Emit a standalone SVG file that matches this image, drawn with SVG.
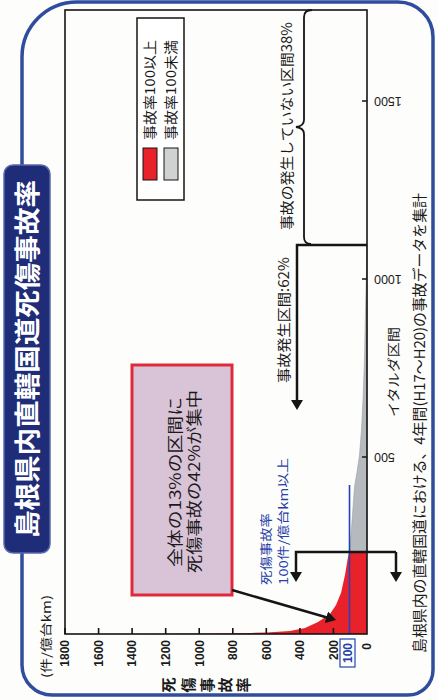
<svg xmlns="http://www.w3.org/2000/svg" width="438" height="700" viewBox="0 0 438 700">
<defs>
<style>
.jp{font-family:"Noto Sans CJK JP","Noto Sans",sans-serif;fill:#1a1a1a}
.num{font-family:"Liberation Sans",Arial,sans-serif;fill:#1a1a1a}
.ln{fill:none;stroke:#151515;stroke-width:2.5}
.ax{fill:none;stroke:#151515;stroke-width:1.6}
.blue{fill:#2440a8}
</style>
<marker id="ah" viewBox="0 0 10 12" refX="7" refY="6" markerWidth="10" markerHeight="12" markerUnits="userSpaceOnUse" orient="auto"><path d="M0,0 L10,6 L0,12 Z" fill="#151515"/></marker>
</defs>
<rect width="438" height="700" fill="#fdfdfb"/>
<path id="border" d="M77 2 H398 A35 35 0 0 1 433 37 V670 A25 25 0 0 1 408 695 H52 A30 30 0 0 1 22 665 V57 A55 55 0 0 1 77 2 Z" fill="none" stroke="#2f4c9e" stroke-width="3.5"/>
<g transform="translate(0,700) rotate(-90)">
<g id="title">
<rect x="147" y="4" width="388" height="46" rx="9" fill="#1f2d78" stroke="#5a6aaa" stroke-width="1.5"/>
<text x="341" y="37" text-anchor="middle" font-size="26" font-weight="bold" textLength="358" lengthAdjust="spacingAndGlyphs" style="font-family:'Noto Sans CJK JP',sans-serif;fill:#ffffff">島根県内直轄国道死傷事故率</text>
</g>
<g id="chart">
<path d="M66 367 L66 140 L66.6 220 L67 250 L67.6 267 L69 290 L72 305 L78 318 L86 330 L95 336 L107 341 L125 345 L140 347.5 L148 349 L148 367 Z" fill="#e8212b"/>
<path d="M148 367 L148 349.5 L165 351 L185 352.5 L213 354.5 L228 357 L245 359.5 L270 361.5 L300 363 L340 364.5 L390 365.5 L430 366.5 L455 367 Z" fill="#b6babe" stroke="#9a9ea2" stroke-width="0.6"/>
<path d="M66 349.5 H215" stroke="#2444b4" stroke-width="1.6"/>
<rect x="66" y="65" width="624" height="302" class="ax"/>
<path class="ax" d="M66 65 h6 M66 98.6 h6 M66 132.1 h6 M66 165.7 h6 M66 199.2 h6 M66 232.8 h6 M66 266.3 h6 M66 299.9 h6 M66 333.4 h6 M243 367 v-5 M421 367 v-5 M599 367 v-5"/>
<g class="num" font-size="12" font-weight="bold" text-anchor="end">
<text x="60" y="69.3">1800</text>
<text x="60" y="102.9">1600</text>
<text x="60" y="136.4">1400</text>
<text x="60" y="170">1200</text>
<text x="60" y="203.5">1000</text>
<text x="60" y="237.1">800</text>
<text x="60" y="270.6">600</text>
<text x="60" y="304.2">400</text>
<text x="60" y="337.7">200</text>
<text x="57" y="371.3">0</text>
</g>
<rect x="33" y="340" width="28" height="15" fill="none" stroke="#2444b4" stroke-width="1.2"/>
<text x="47" y="352" text-anchor="middle" font-size="12" font-weight="bold" class="num" style="fill:#2440a8">100</text>
<g class="num" font-size="12.5" text-anchor="end">
<text transform="translate(247.5,374) rotate(-90)">500</text>
<text transform="translate(425.5,374) rotate(-90)">1000</text>
<text transform="translate(603.5,374) rotate(-90)">1500</text>
</g>
<text x="22" y="51" class="jp" font-size="12" textLength="83" lengthAdjust="spacingAndGlyphs">(件/億台km)</text>
<text class="jp" font-size="15" font-weight="bold" text-anchor="middle"><tspan x="15" y="174">死</tspan><tspan x="15" y="194">傷</tspan><tspan x="15" y="213">事</tspan><tspan x="15" y="231">故</tspan><tspan x="15" y="249">率</tspan></text>
<text x="328" y="397.5" text-anchor="middle" class="jp" font-size="13" textLength="90" lengthAdjust="spacingAndGlyphs">イタルダ区間</text>
</g>
<g id="legend">
<rect x="500" y="137" width="182" height="47" fill="#ffffff" stroke="#151515" stroke-width="1.5"/>
<rect x="520" y="143" width="32" height="14" fill="#e8212b" stroke="#151515" stroke-width="1"/>
<rect x="520" y="164" width="32" height="14" fill="#d0d2d2" stroke="#151515" stroke-width="1"/>
<text x="560" y="155" class="jp" font-size="13.5" textLength="100" lengthAdjust="spacingAndGlyphs">事故率100以上</text>
<text x="560" y="176" class="jp" font-size="13.5" textLength="100" lengthAdjust="spacingAndGlyphs">事故率100未満</text>
</g>
<g id="callout">
<rect x="105" y="132" width="230" height="100" fill="#d9c3d7" stroke="#e02a3c" stroke-width="3"/>
<text x="133" y="180.5" class="jp" font-size="15.5" textLength="170" lengthAdjust="spacingAndGlyphs">全体の13%の区間に</text>
<text x="127" y="199.5" class="jp" font-size="15.5" textLength="183" lengthAdjust="spacingAndGlyphs">死傷事故の42%が集中</text>
</g>
<g id="labels">
<text x="115" y="271" class="jp blue" font-size="12" textLength="72" lengthAdjust="spacingAndGlyphs" style="fill:#2440a8">死傷事故率</text>
<text x="115" y="288" class="jp blue" font-size="12" textLength="127" lengthAdjust="spacingAndGlyphs" style="fill:#2440a8">100件/億台km以上</text>
<text x="317" y="289" class="jp" font-size="14" textLength="126" lengthAdjust="spacingAndGlyphs">事故発生区間:62%</text>
<text x="470" y="292" class="jp" font-size="14" textLength="208" lengthAdjust="spacingAndGlyphs">事故の発生していない区間38%</text>
<text x="47" y="424.5" class="jp" font-size="14.5" textLength="460" lengthAdjust="spacingAndGlyphs">島根県内の直轄国道における、4年間(H17～H20)の事故データを集計</text>
</g>
<g id="connectors">
<path class="ln" d="M455 367 V297 H293" marker-end="url(#ah)"/>
<path fill="none" stroke="#151515" stroke-width="1.8" d="M456 311 Q456 304 463 304 L566 304 Q572 304 573 296 Q574 304 580 304 L683 304 Q690 304 690 312"/>
<path class="ln" d="M148 396 V296 H121" marker-end="url(#ah)"/>
<path class="ln" d="M148 396 H121" marker-end="url(#ah)"/>
<path class="ln" d="M110 232 L80.8 333.1" marker-end="url(#ah)"/>
</g>
</g>
</svg>
